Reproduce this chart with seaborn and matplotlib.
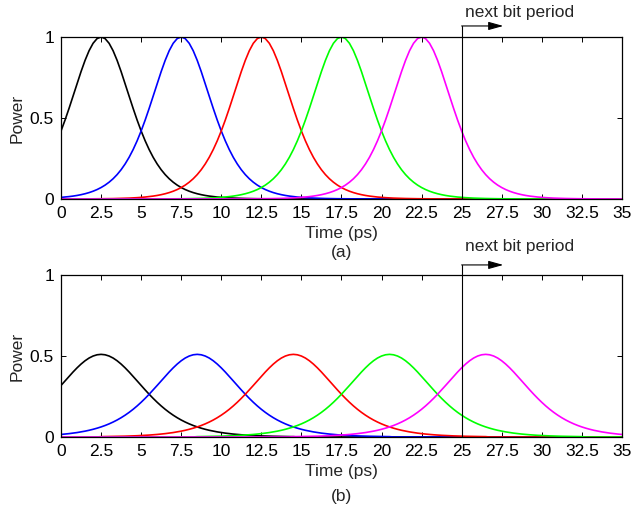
import numpy as np
import pandas as pd
import matplotlib
matplotlib.use('Agg')
import matplotlib.pyplot as plt
import seaborn as sns

# pulse shape, one side of the peak, every 0.25 ps from the centre
top_profile = [1.0, 0.9901, 0.961, 0.9151, 0.8556, 0.7864, 0.7116, 0.6347, 0.5591, 0.4869,
               0.42, 0.3592, 0.305, 0.2574, 0.2162, 0.1807, 0.1505, 0.125, 0.1036, 0.0856,
               0.0707, 0.0582, 0.0479, 0.0394, 0.0324, 0.0266, 0.0218, 0.0179, 0.0147, 0.012,
               0.0099, 0.0081, 0.0066, 0.0054, 0.0044, 0.0036, 0.003, 0.0024, 0.002, 0.0016,
               0.0013, 0.0011, 0.0009, 0.0007, 0.0006, 0.0005, 0.0004, 0.0003, 0.0003, 0.0002,
               0.0002, 0.0001, 0.0001]
bottom_profile = [0.51, 0.5074, 0.4997, 0.4873, 0.4705, 0.4501, 0.4267, 0.4011, 0.374, 0.3461,
                  0.3181, 0.2905, 0.2638, 0.2383, 0.2142, 0.1917, 0.1709, 0.1519, 0.1346, 0.1189,
                  0.1048, 0.0922, 0.0809, 0.0709, 0.0621, 0.0543, 0.0474, 0.0413, 0.036, 0.0314,
                  0.0273, 0.0238, 0.0207, 0.018, 0.0156, 0.0136, 0.0118, 0.0102, 0.0089, 0.0077,
                  0.0067, 0.0058, 0.005, 0.0044, 0.0038, 0.0033, 0.0029, 0.0025, 0.0021]
profile_step = 0.25

top_centers = [2.5, 7.5, 12.5, 17.5, 22.5]
bottom_centers = [2.5, 8.5, 14.5, 20.5, 26.5]
pulse_names = ['p1', 'p2', 'p3', 'p4', 'p5']
bit_boundary = 25

xticks = [0, 2.5, 5, 7.5, 10, 12.5, 15, 17.5, 20, 22.5, 25, 27.5, 30, 32.5, 35]
xtick_labels = ['0', '2.5', '5', '7.5', '10', '12.5', '15', '17.5', '20', '22.5',
                '25', '27.5', '30', '32.5', '35']
yticks = [0, 0.5, 1]
ytick_labels = ['0', '0.5', '1']

colors = ['#000000', '#0000ff', '#ff0000', '#00ff00', '#ff00ff']

sns.set_style('ticks')
plt.rcParams['font.family'] = ['Liberation Sans', 'DejaVu Sans']
fs = 12.5


def pulse_frame(profile, centers):
    '''Lay the read profile down at every pulse centre on a common time grid'''
    time = np.arange(0, 35 + profile_step / 2, profile_step)
    rows = []
    for name, c in zip(pulse_names, centers):
        for t in time:
            idx = int(round(abs(t - c) / profile_step))
            p = profile[idx] if idx < len(profile) else 0.0
            rows.append((t, p, name))
    return pd.DataFrame(rows, columns=['time', 'power', 'pulse'])


fig = plt.figure(figsize=(6.33, 5.08), dpi=100)
ax_top = fig.add_axes([0.0964, 0.6083, 0.886, 0.3189])
ax_bot = fig.add_axes([0.0964, 0.1398, 0.886, 0.3189])

panels = [(ax_top, top_profile, top_centers, '(a)', -0.333, 1.068, 1.154),
          (ax_bot, bottom_profile, bottom_centers, '(b)', -0.370, 1.062, 1.173)]

for ax, profile, centers, tag, tag_y, arrow_y, text_y in panels:
    df = pulse_frame(profile, centers)
    sns.lineplot(data=df, x='time', y='power', hue='pulse', hue_order=pulse_names,
                 palette=colors, estimator=None, sort=False, legend=False,
                 linewidth=1.2, ax=ax)

    ax.set_xlim(0, 35)
    ax.set_ylim(0, 1)
    ax.set_xticks(xticks)
    ax.set_xticklabels(xtick_labels)
    ax.set_yticks(yticks)
    ax.set_yticklabels(ytick_labels)
    ax.tick_params(direction='in', top=True, right=True, length=3.5, width=0.7,
                   pad=5, labelsize=fs, colors='k')
    for side in ax.spines.values():
        side.set_visible(True)
        side.set_linewidth(0.9)
        side.set_color('k')
    ax.set_xlabel('Time (ps)', fontsize=fs, labelpad=4)
    ax.set_ylabel('Power', fontsize=fs, labelpad=4)
    ax.text(0.5, tag_y, tag, transform=ax.transAxes, ha='center', va='center', fontsize=fs)

    # next bit period marker
    ax.plot([bit_boundary, bit_boundary], [0, arrow_y], color='k', lw=0.8, clip_on=False)
    ax.annotate('', xy=(bit_boundary + 2.6, arrow_y), xytext=(bit_boundary, arrow_y),
                arrowprops=dict(arrowstyle='-|>,head_length=0.9,head_width=0.25',
                                color='k', lw=0.8, mutation_scale=10,
                                shrinkA=0, shrinkB=0),
                annotation_clip=False)
    ax.text(bit_boundary + 0.2, text_y, 'next bit period', ha='left', va='center',
            fontsize=fs, clip_on=False)

fig.savefig('out.png', dpi=100)
